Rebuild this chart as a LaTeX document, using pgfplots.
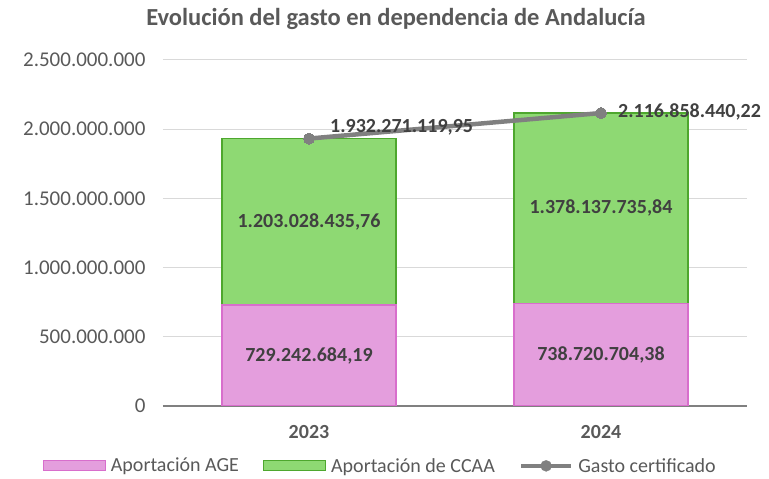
\documentclass[border=0pt]{standalone}
\usepackage{pgfplots}
\pgfplotsset{compat=1.18}
\usepackage{fontspec}
\setmainfont{Carlito}
\definecolor{pinkfill}{HTML}{E49EDD}
\definecolor{pinkdraw}{HTML}{D86ECC}
\definecolor{greenfill}{HTML}{8ED973}
\definecolor{greendraw}{HTML}{4EA72E}
\definecolor{linegray}{HTML}{808080}
\definecolor{txtgray}{HTML}{595959}
\definecolor{lbl}{HTML}{404040}
\definecolor{gridgray}{HTML}{D9D9D9}
\begin{document}
\begin{tikzpicture}[x=1pt,y=1pt]
\useasboundingbox (0,0) rectangle (769,479);
\node[font=\fontsize{24.5}{28}\selectfont\bfseries, text=txtgray] at (396,460) {Evolución del gasto en dependencia de Andalucía};
\begin{axis}[
  at={(163pt,73pt)}, anchor=south west,
  scale only axis, width=584pt, height=346pt,
  xmin=-0.5, xmax=1.5, ymin=0, ymax=2500000000,
  ytick={0,500000000,1000000000,1500000000,2000000000,2500000000},
  scaled y ticks=false,
  /pgf/number format/fixed,
  /pgf/number format/1000 sep={.},
  /pgf/number format/assume math mode=true,
  xtick={0,1}, xticklabels={2023,2024},
  xticklabel style={font=\fontsize{20}{24}\selectfont\bfseries, text=txtgray, yshift=-16pt},
  yticklabel style={font=\fontsize{21}{24}\selectfont, text=txtgray, xshift=-14pt},
  major tick length=0pt,
  axis x line*=bottom, axis y line*=left,
  x axis line style={draw=linegray, line width=1.5pt, -},
  y axis line style={draw=none},
  ymajorgrids, grid style={gridgray, line width=1pt},
  legend columns=3,
  legend style={at={(0.372,-0.173)}, anchor=center, draw=none, fill=none,
    font=\fontsize{20}{24}\selectfont, text=txtgray,
    /tikz/every odd column/.append style={column sep=3pt},
    /tikz/every even column/.append style={column sep=22pt},
    inner sep=0pt},
  legend cell align=left,
]
\addlegendimage{legend image code/.code={\draw[fill=pinkfill, draw=pinkdraw, line width=1.2pt] (0pt,-5pt) rectangle (62pt,5pt);}}
\addlegendentry{Aportación AGE}
\addlegendimage{legend image code/.code={\draw[fill=greenfill, draw=greendraw, line width=1.2pt] (0pt,-5pt) rectangle (62pt,5pt);}}
\addlegendentry{Aportación de CCAA}
\addlegendimage{legend image code/.code={\draw[linegray, line width=4.5pt] (0pt,0pt) -- (50pt,0pt); \fill[linegray] (25pt,0pt) circle (5.5pt);}}
\addlegendentry{Gasto certificado}

% total bar (green = AGE + CCAA)
\addplot[forget plot, ybar, bar width=174pt, bar shift=0pt, fill=greenfill, draw=greendraw, line width=1.2pt]
  coordinates {(0,1932271119.95) (1,2116858440.22)};
% AGE bar
\addplot[forget plot, ybar, bar width=174pt, bar shift=0pt, fill=pinkfill, draw=pinkdraw, line width=1.2pt]
  coordinates {(0,729242684.19) (1,738720704.38)};
% segment labels
\addplot[forget plot, only marks, mark=none, nodes near coords, point meta=explicit symbolic,
  every node near coord/.style={anchor=center, font=\fontsize{20}{24}\selectfont\bfseries, text=lbl}]
  coordinates {(0,364621342)[729.242.684,19] (1,369360352)[738.720.704,38]
               (0,1330756902)[1.203.028.435,76] (1,1427789572)[1.378.137.735,84]};
% line
\addplot[forget plot, sharp plot, linegray, line width=4.5pt, mark=*, mark size=5.5pt, mark options={fill=linegray, draw=linegray, line width=0pt}]
  coordinates {(0,1932271119.95) (1,2116858440.22)};
% line labels
\addplot[forget plot, only marks, mark=none, nodes near coords, point meta=explicit symbolic,
  every node near coord/.style={anchor=west, inner sep=0pt, font=\fontsize{20}{24}\selectfont\bfseries, text=lbl}]
  coordinates {(0.072,2016000000)[1.932.271.119,95] (1.058,2124000000)[2.116.858.440,22]};
\end{axis}
\end{tikzpicture}
\end{document}
